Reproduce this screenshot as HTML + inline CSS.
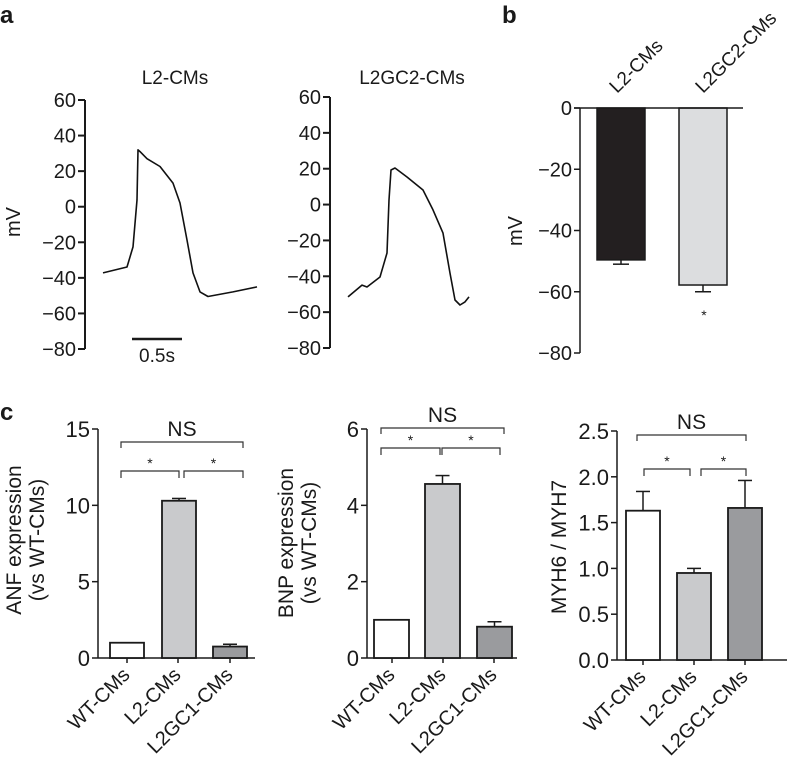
<!DOCTYPE html>
<html><head><meta charset="utf-8"><style>
html,body{margin:0;padding:0;background:#fff;}
svg{display:block;font-family:"Liberation Sans",sans-serif;fill:#1a1a1a;}
</style></head><body>
<svg id="fig" width="788" height="764" viewBox="0 0 788 764" xmlns="http://www.w3.org/2000/svg"></svg>
<script>
// ---- Panel a data (time s, mV) ----
const traceL2T = [0, 0.24, 0.30, 0.34, 0.35, 0.37, 0.44, 0.57, 0.70, 0.77, 0.84, 0.90, 0.97, 1.05, 1.30, 1.54];
const traceL2V = [-37.2, -33.9, -22.6, 3.8, 32, 31, 27, 22.6, 13.3, 2.1, -18.7, -37.2, -47.9, -50.5, -47.9, -45.1];
const traceGCT = [0, 0.14, 0.19, 0.32, 0.39, 0.41, 0.43, 0.47, 0.59, 0.75, 0.85, 0.95, 1.02, 1.07, 1.12, 1.17, 1.21];
const traceGCV = [-51.5, -44.9, -46, -40.4, -27, 2.6, 19.3, 20.4, 15.4, 8.1, -3, -15.9, -38.2, -53.2, -56, -54.3, -51.5];
const aTicks = [60, 40, 20, 0, -20, -40, -60, -80];
// ---- Panel b data ----
const bCats = ["L2-CMs", "L2GC2-CMs"];
const bVals = [-49.6, -57.8];
const bErr = [-51, -60];
const bTicks = [0, -20, -40, -60, -80];
// ---- Panel c data ----
const cCats = ["WT-CMs", "L2-CMs", "L2GC1-CMs"];
const anfVals = [1.0, 10.3, 0.75];
const anfErr = [1.0, 10.45, 0.9];
const anfTicks = [0, 5, 10, 15];
const bnpVals = [1.0, 4.56, 0.82];
const bnpErr = [1.0, 4.78, 0.95];
const bnpTicks = [0, 2, 4, 6];
const myhVals = [1.63, 0.95, 1.66];
const myhErr = [1.84, 1.0, 1.96];
const myhTicks = [0.0, 0.5, 1.0, 1.5, 2.0, 2.5];
const myhTickLabels = ["0.0", "0.5", "1.0", "1.5", "2.0", "2.5"];

const NS = "http://www.w3.org/2000/svg";
const svg = document.getElementById("fig");
function mk(tag, attrs, parent) {
  const e = document.createElementNS(NS, tag);
  for (const k in attrs) e.setAttribute(k, attrs[k]);
  (parent || svg).appendChild(e);
  return e;
}
function lin(d0, d1, r0, r1) { return v => r0 + (v - d0) * (r1 - r0) / (d1 - d0); }
function txt(x, y, s, size, anchor, parent, extra) {
  const t = mk("text", Object.assign({x: x, y: y, "font-size": size, "text-anchor": anchor || "middle"}, extra || {}), parent);
  t.textContent = s;
  return t;
}
const LC = "#1a1a1a";

let el = txt(0, 23, "a", 24, "start", svg, {"font-weight": "bold"});


el = txt(502, 23, "b", 24, "start", svg, {"font-weight": "bold"});


el = txt(0, 420, "c", 24, "start", svg, {"font-weight": "bold"});



// ---- Panel a ----
function drawTrace(axX, yTop, yBot, x0, T, V, title, titleX, name) {
  const g = mk("g", {});
  
  
  const ys = lin(60, -80, yTop, yBot);
  const xs = t => x0 + t * 100;
  mk("line", {x1: axX, y1: yTop, x2: axX, y2: yBot, stroke: LC, "stroke-width": 2}, g);
  aTicks.forEach(v => {
    mk("line", {x1: axX - 7, y1: ys(v), x2: axX, y2: ys(v), stroke: LC, "stroke-width": 2}, g);
    const lab = txt(axX - 9, ys(v) + 7, (v < 0 ? "\u2212" + (-v) : "" + v), 20, "end", g);
    
    
  });
  const t = txt(titleX, 84, title, 19, "middle", g);
  
  
  const d = T.map((tt, i) => (i ? "L" : "M") + xs(tt).toFixed(1) + " " + ys(V[i]).toFixed(1)).join(" ");
  const p = mk("path", {d: d, fill: "none", stroke: "#111", "stroke-width": 1.6, "stroke-linejoin": "round"}, g);
  
  
  return g;
}
drawTrace(85, 100, 349, 103, traceL2T, traceL2V, "L2-CMs", 175, "trace-l2-cms");
drawTrace(330, 97, 348, 348, traceGCT, traceGCV, "L2GC2-CMs", 412, "trace-l2gc2-cms");
el = txt(20, 222, "mV", 20, "middle", svg, {transform: "rotate(-90 20 222)"});


el = mk("line", {x1: 132, y1: 339, x2: 182, y2: 339, stroke: LC, "stroke-width": 2.5});


el = txt(157, 362, "0.5s", 19, "middle");



// ---- Panel b ----
(function () {
  const g = mk("g", {});
  
  
  const ys = lin(0, -80, 108, 353);
  const axX = 580;
  const barX = [597, 679], barW = 48, fills = ["#231f20", "#dcdddf"];
  mk("line", {x1: axX, y1: ys(0), x2: axX, y2: ys(-80), stroke: LC, "stroke-width": 1.5}, g);
  bTicks.forEach(v => {
    mk("line", {x1: axX - 6, y1: ys(v), x2: axX, y2: ys(v), stroke: LC, "stroke-width": 1.5}, g);
    const l = txt(axX - 8, ys(v) + 7, v < 0 ? "\u2212" + (-v) : "" + v, 20, "end", g);
    
    
  });
  bVals.forEach((v, i) => {
    const cx = barX[i] + barW / 2;
    const e = mk("line", {x1: cx, y1: ys(v), x2: cx, y2: ys(bErr[i]), stroke: LC, "stroke-width": 1.5}, g);
    
    
    const c = mk("line", {x1: cx - 8, y1: ys(bErr[i]), x2: cx + 8, y2: ys(bErr[i]), stroke: LC, "stroke-width": 1.5}, g);
    
    
    const r = mk("rect", {x: barX[i], y: ys(0), width: barW, height: ys(v) - ys(0), fill: fills[i], stroke: LC, "stroke-width": 1.5}, g);
    
    
    const lx = i === 0 ? 617 : 703;
    const lab = txt(lx, 94, bCats[i], 19, "start", g, {transform: "rotate(-45 " + lx + " 94)"});
    
    
  });
  mk("line", {x1: 574, y1: ys(0), x2: 743, y2: ys(0), stroke: LC, "stroke-width": 1.5}, g);
  const st = txt(704, 320, "*", 14, "middle", g);
  
  
  const yt = txt(522, 231, "mV", 20, "middle", g, {transform: "rotate(-90 522 231)"});
  
  
})();

// ---- Panel c ----
function barPanel(o) {
  const g = mk("g", {});
  
  
  const ys = lin(o.ticks[0], o.ticks[o.ticks.length - 1], o.y0, o.yTop);
  const fills = ["#ffffff", "#c9cacc", "#9a9b9e"];
  mk("line", {x1: o.axX, y1: o.yTop, x2: o.axX, y2: o.y0, stroke: LC, "stroke-width": 1.5}, g);
  mk("line", {x1: o.axX, y1: o.y0, x2: o.axEnd, y2: o.y0, stroke: LC, "stroke-width": 1.5}, g);
  o.ticks.forEach((v, i) => {
    mk("line", {x1: o.axX - 6, y1: ys(v), x2: o.axX, y2: ys(v), stroke: LC, "stroke-width": 1.5}, g);
    const l = txt(o.axX - 8, ys(v) + 8, o.tickLabels ? o.tickLabels[i] : "" + v, 22, "end", g);
    
    
  });
  o.vals.forEach((v, i) => {
    const x = o.barX[i], cx = x + o.barW / 2;
    const e = mk("line", {x1: cx, y1: ys(v), x2: cx, y2: ys(o.err[i]), stroke: LC, "stroke-width": 1.5}, g);
    
    
    const c = mk("line", {x1: cx - 7, y1: ys(o.err[i]), x2: cx + 7, y2: ys(o.err[i]), stroke: LC, "stroke-width": 1.5}, g);
    
    
    const r = mk("rect", {x: x, y: ys(v), width: o.barW, height: o.y0 - ys(v), fill: fills[i], stroke: LC, "stroke-width": 1.8}, g);
    
    
    const tx = o.tickX[i];
    mk("line", {x1: tx, y1: o.y0, x2: tx, y2: o.y0 + 5, stroke: LC, "stroke-width": 1.5}, g);
    const lx = tx + 4, ly = o.y0 + 18;
    const lab = txt(lx, ly, cCats[i], 20, "end", g, {transform: "rotate(-45 " + lx + " " + ly + ")"});
    
    
  });
  function bracket(x1, x2, y, h, name) {
    const p = mk("path", {d: "M" + x1 + " " + (y + h) + " V" + y + " H" + x2 + " V" + (y + h), fill: "none", stroke: "#333", "stroke-width": 1.2}, g);
    
    
  }
  const b = o.br;
  bracket(b.nsX1, b.nsX2, b.nsY, 6, 'ns-bracket');
  bracket(b.l1, b.l2, b.lowY, 7, 'significance-bracket-left');
  bracket(b.r1, b.r2, b.lowY, 7, 'significance-bracket-right');
  const ns = txt((b.nsX1 + b.nsX2) / 2, b.nsY - 6, "NS", 21, "middle", g);
  
  
  [(b.l1 + b.l2) / 2, (b.r1 + b.r2) / 2].forEach(ax => {
    const s = txt(ax, b.lowY - 3, "*", 14, "middle", g);
    
    
  });
  o.ytitle.forEach((s, i) => {
    const x = o.ytX[i], y = o.ytY;
    const t = txt(x, y, s, 21, "middle", g, {transform: "rotate(-90 " + x + " " + y + ")"});
    
    
  });
}
barPanel({name: "anf-chart", axX: 98, axEnd: 255, y0: 658, yTop: 429, ticks: anfTicks, vals: anfVals, err: anfErr,
  barX: [110, 162, 213], barW: 34, tickX: [127, 178, 230],
  br: {nsX1: 121, nsX2: 243, nsY: 442, l1: 121, l2: 179, r1: 184, r2: 243, lowY: 471},
  ytitle: ["ANF expression", "(vs WT-CMs)"], ytX: [21, 44], ytY: 540});
barPanel({name: "bnp-chart", axX: 367, axEnd: 517, y0: 658, yTop: 429, ticks: bnpTicks, vals: bnpVals, err: bnpErr,
  barX: [374, 425, 477], barW: 35, tickX: [392, 443, 494],
  br: {nsX1: 381, nsX2: 504, nsY: 428, l1: 381, l2: 440, r1: 442, r2: 500, lowY: 448},
  ytitle: ["BNP expression", "(vs WT-CMs)"], ytX: [293, 316], ytY: 543});
barPanel({name: "myh-ratio-chart", axX: 617, axEnd: 787, y0: 660, yTop: 431, ticks: myhTicks, tickLabels: myhTickLabels, vals: myhVals, err: myhErr,
  barX: [626, 677, 728], barW: 34, tickX: [643, 694, 745],
  br: {nsX1: 637, nsX2: 746, nsY: 435, l1: 644, l2: 690, r1: 701, r2: 746, lowY: 469},
  ytitle: ["MYH6 / MYH7"], ytX: [566], ytY: 547});
</script>
</body></html>
